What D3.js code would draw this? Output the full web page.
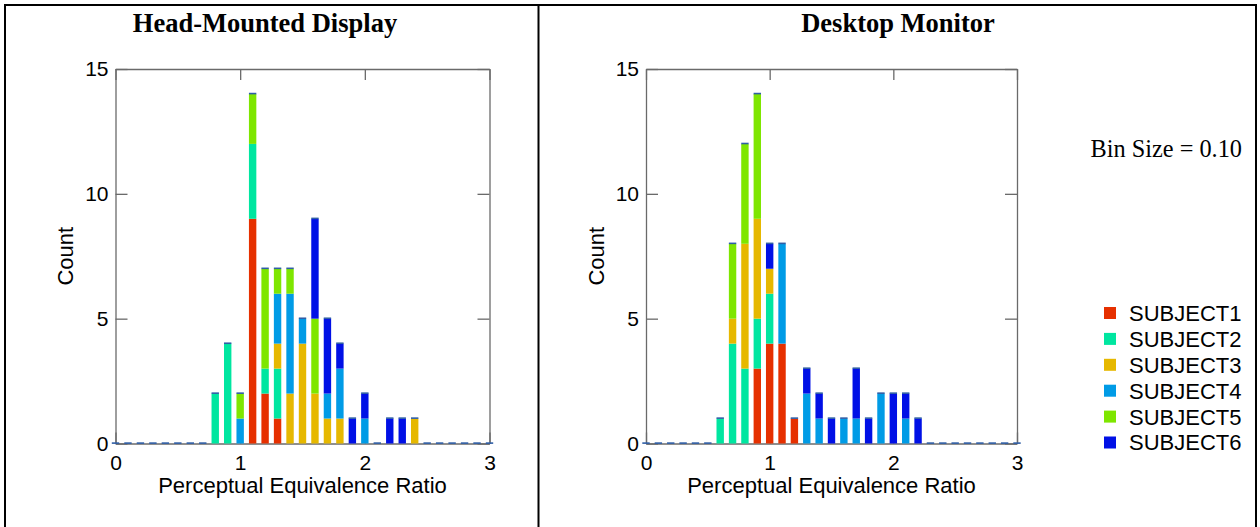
<!DOCTYPE html>
<html>
<head>
<meta charset="utf-8">
<script src="https://cdn.jsdelivr.net/npm/d3@7/dist/d3.min.js"></script>
<style>
  html, body { margin: 0; padding: 0; background: #fff; }
  svg { display: block; }
</style>
</head>
<body>
<svg id="chart" width="1260" height="527"></svg>
<script>
// ---- Data ----
const bins = [0.0,0.1,0.2,0.3,0.4,0.5,0.6,0.7,0.8,0.9,1.0,1.1,1.2,1.3,1.4,1.5,1.6,1.7,1.8,1.9,2.0,2.1,2.2,2.3,2.4,2.5,2.6,2.7,2.8,2.9,3.0];
const subjects = ["SUBJECT1","SUBJECT2","SUBJECT3","SUBJECT4","SUBJECT5","SUBJECT6"];
const subjectColors = ["#e63000","#00e6a0","#e6b800","#009be6","#7ee600","#0010e6"];
const panelTitles = ["Head-Mounted Display","Desktop Monitor"];
const xTicks = [0,1,2,3];
const yTicks = [0,5,10,15];
const xLabel = "Perceptual Equivalence Ratio";
const yLabel = "Count";
const binNote = "Bin Size = 0.10";

// Head-Mounted Display counts per bin
const hmdS1 = [0,0,0,0,0,0,0,0,0,0, 0,9,2,1,0,0,0,0,0,0, 0,0,0,0,0,0,0,0,0,0, 0];
const hmdS2 = [0,0,0,0,0,0,0,0,2,4, 0,3,1,2,0,0,0,0,0,0, 0,0,0,0,0,0,0,0,0,0, 0];
const hmdS3 = [0,0,0,0,0,0,0,0,0,0, 0,0,0,1,2,4,2,1,1,0, 0,0,0,0,1,0,0,0,0,0, 0];
const hmdS4 = [0,0,0,0,0,0,0,0,0,0, 1,0,0,2,4,1,0,1,2,0, 1,0,0,0,0,0,0,0,0,0, 0];
const hmdS5 = [0,0,0,0,0,0,0,0,0,0, 1,2,4,1,1,0,3,0,0,0, 0,0,0,0,0,0,0,0,0,0, 0];
const hmdS6 = [0,0,0,0,0,0,0,0,0,0, 0,0,0,0,0,0,4,3,1,1, 1,0,1,1,0,0,0,0,0,0, 0];

// Desktop Monitor counts per bin
const dmS1 = [0,0,0,0,0,0,0,0,0,3, 4,4,1,0,0,0,0,0,0,0, 0,0,0,0,0,0,0,0,0,0, 0];
const dmS2 = [0,0,0,0,0,0,1,4,3,2, 2,0,0,0,0,0,0,0,0,0, 0,0,0,0,0,0,0,0,0,0, 0];
const dmS3 = [0,0,0,0,0,0,0,1,5,4, 1,0,0,0,0,0,0,0,0,0, 0,0,0,0,0,0,0,0,0,0, 0];
const dmS4 = [0,0,0,0,0,0,0,0,0,0, 0,4,0,2,1,0,1,1,0,2, 0,1,0,0,0,0,0,0,0,0, 0];
const dmS5 = [0,0,0,0,0,0,0,3,4,5, 0,0,0,0,0,0,0,0,0,0, 0,0,0,0,0,0,0,0,0,0, 0];
const dmS6 = [0,0,0,0,0,0,0,0,0,0, 1,0,0,1,1,1,0,2,1,0, 2,1,1,0,0,0,0,0,0,0, 0];

const panelSeries = [
  [hmdS1,hmdS2,hmdS3,hmdS4,hmdS5,hmdS6],
  [dmS1,dmS2,dmS3,dmS4,dmS5,dmS6]
];

// ---- Layout ----
const svg = d3.select("#chart");
const sans = "'Liberation Sans', Arial, sans-serif";
const serif = "'Liberation Serif', 'Times New Roman', serif";

svg.append("rect").attr("x",5).attr("y",5).attr("width",1251).attr("height",540)
  .attr("fill","none").attr("stroke","#000").attr("stroke-width",2);
svg.append("line").attr("x1",538.5).attr("x2",538.5).attr("y1",5).attr("y2",540)
  .attr("stroke","#000").attr("stroke-width",2);

const panels = [
  {x0:115.5, x1:489.5, titleX:265},
  {x0:646, x1:1017, titleX:898}
];
const yTop = 69, yBot = 443.5;
const axisColor = "#6a6a6a";

panels.forEach((p, pi) => {
  const x = d3.scaleLinear().domain([0,3]).range([p.x0, p.x1]);
  const y = d3.scaleLinear().domain([0,15]).range([yBot, yTop]);
  const g = svg.append("g");

  // title
  svg.append("text").attr("x", p.titleX).attr("y", 32)
    .attr("text-anchor","middle").attr("font-family", serif)
    .attr("font-weight","bold").attr("font-size","26.5px").text(panelTitles[pi]);

  // axes
  const styleAxis = sel => {
    sel.selectAll("path.domain").attr("stroke", axisColor).attr("stroke-width",1.3);
    sel.selectAll(".tick line").attr("stroke", axisColor).attr("stroke-width",1.3);
    sel.selectAll("text").attr("font-family", sans).attr("font-size","21px").attr("fill","#000");
  };
  g.append("g").attr("transform",`translate(0,${yBot})`)
    .call(d3.axisBottom(x).tickValues(xTicks).tickFormat(d3.format("d")).tickSize(-11).tickSizeOuter(0).tickPadding(12))
    .call(styleAxis);
  g.append("g").attr("transform",`translate(0,${yTop})`)
    .call(d3.axisTop(x).tickValues(xTicks).tickFormat("").tickSize(-11).tickSizeOuter(0))
    .call(styleAxis);
  g.append("g").attr("transform",`translate(${p.x0},0)`)
    .call(d3.axisLeft(y).tickValues(yTicks).tickFormat(d3.format("d")).tickSize(-12).tickSizeOuter(0).tickPadding(7))
    .call(styleAxis);
  g.append("g").attr("transform",`translate(${p.x1},0)`)
    .call(d3.axisRight(y).tickValues(yTicks).tickFormat("").tickSize(-12).tickSizeOuter(0))
    .call(styleAxis);
  g.selectAll(".domain").attr("fill","none");

  // axis labels
  svg.append("text").attr("x",(p.x0+p.x1)/2).attr("y",493)
    .attr("text-anchor","middle").attr("font-family",sans).attr("font-size","22px").text(xLabel);
  svg.append("text").attr("transform",`translate(${p.x0-50},${(yTop+yBot)/2}) rotate(-90)`)
    .attr("text-anchor","middle").attr("dy","0.35em").attr("font-family",sans).attr("font-size","22px").text(yLabel);

  // stacked bars
  const rows = bins.map((b,i) => {
    const r = {bin:b};
    subjects.forEach((s,si) => r[s] = panelSeries[pi][si][i]);
    return r;
  });
  const stacked = d3.stack().keys(subjects)(rows);
  const bw = 7.4;
  stacked.forEach((layer, li) => {
    g.append("g").selectAll("rect").data(layer.filter(d => d[1] > d[0])).join("rect")
      .attr("x", d => x(d.data.bin) - bw/2)
      .attr("width", bw)
      .attr("y", d => y(d[1]))
      .attr("height", d => y(d[0]) - y(d[1]))
      .attr("fill", subjectColors[li]);
  });
  // caps on stack tops
  const top = stacked[stacked.length-1];
  g.append("g").selectAll("rect").data(top).join("rect")
    .attr("x", d => x(d.data.bin) - bw/2)
    .attr("width", bw)
    .attr("y", d => y(d[1]) - 1.2)
    .attr("height", 1.6)
    .attr("fill", "#2f5ea6");
});

// Bin size note
svg.append("text").attr("x",1242).attr("y",157).attr("text-anchor","end")
  .attr("font-family",serif).attr("font-size","24.3px").text(binNote);

// Legend
const lg = svg.append("g");
subjects.forEach((s,i) => {
  const cy = 313 + i*25.9;
  lg.append("rect").attr("x",1104).attr("y",cy-6).attr("width",12).attr("height",12)
    .attr("fill",subjectColors[i]);
  lg.append("text").attr("x",1129).attr("y",cy).attr("dy","0.36em")
    .attr("font-family",sans).attr("font-size","22px").text(s);
});
</script>
</body>
</html>
